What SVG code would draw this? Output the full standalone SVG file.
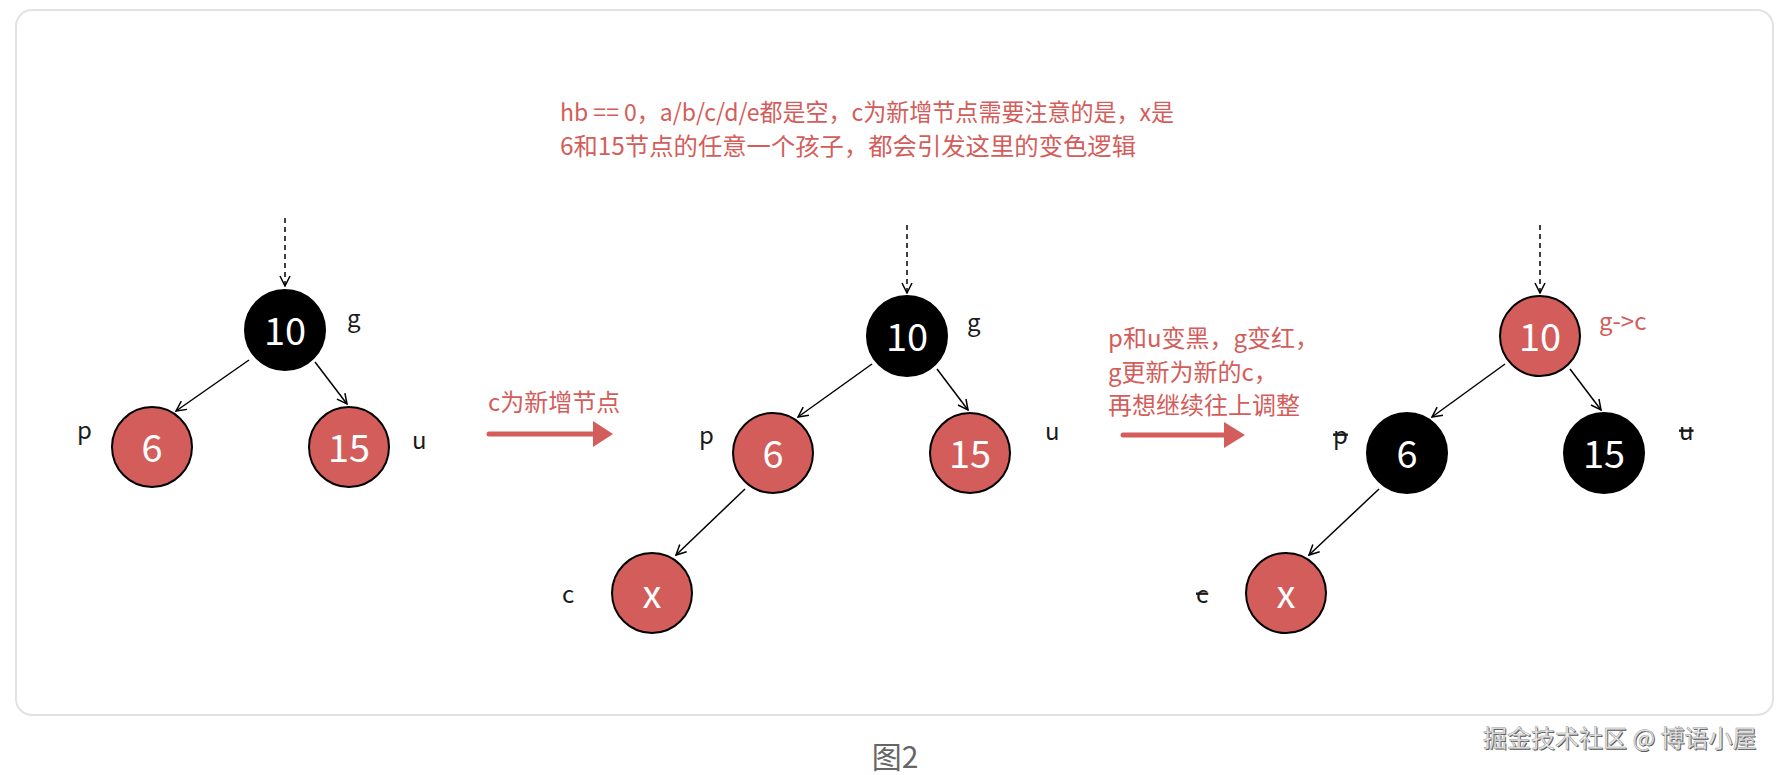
<svg xmlns="http://www.w3.org/2000/svg" width="1790" height="775" viewBox="0 0 1790 775">
<style>
  text { font-family: "Noto Sans CJK SC", "Noto Sans", sans-serif; }
  .red { fill: #d35d5a; stroke: #000; stroke-width: 2; }
  .blk { fill: #000; stroke: #000; stroke-width: 2; }
  .num { fill: #fff; font-size: 38px; text-anchor: middle; }
  .lbl { fill: #1a1a1a; font-size: 24px; }
  .note { fill: #d35d5a; font-size: 24px; }
  .edge { stroke: #000; stroke-width: 1.5; fill: none; marker-end: url(#ah); }
  .dash { stroke: #000; stroke-width: 1.5; fill: none; stroke-dasharray: 5 4; marker-end: url(#ah); }
  .bigarrow { stroke: #d35d5a; stroke-width: 5; stroke-linecap: round; fill: none; }
  .strike { text-decoration: line-through; }
</style>
<defs>
  <marker id="ah" viewBox="0 0 12 12" refX="11" refY="6" markerWidth="12" markerHeight="12" orient="auto" markerUnits="userSpaceOnUse">
    <path d="M1,1 L11,6 L1,11" fill="none" stroke="#000" stroke-width="1.5"/>
  </marker>
</defs>
<rect x="0" y="0" width="1790" height="775" fill="#fff"/>
<rect x="16" y="10" width="1757" height="705" rx="16" ry="16" fill="#fff" stroke="#e2e2e2" stroke-width="2"/>

<g id="top-note">
  <text class="note" x="560" y="121" textLength="614" lengthAdjust="spacingAndGlyphs">hb == 0，a/b/c/d/e都是空，c为新增节点需要注意的是，x是</text>
  <text class="note" x="560" y="155" textLength="576" lengthAdjust="spacingAndGlyphs">6和15节点的任意一个孩子，都会引发这里的变色逻辑</text>
</g>

<g id="connectors">
  <!-- tree 1 -->
  <line class="dash" x1="285" y1="218" x2="285" y2="286"/>
  <line class="edge" x1="249" y1="360" x2="176" y2="411"/>
  <line class="edge" x1="315" y1="362" x2="347" y2="404"/>
  <!-- tree 2 -->
  <line class="dash" x1="907" y1="225" x2="907" y2="293"/>
  <line class="edge" x1="872" y1="364" x2="798" y2="417"/>
  <line class="edge" x1="937" y1="369" x2="968" y2="410"/>
  <line class="edge" x1="745" y1="489" x2="676" y2="555"/>
  <!-- tree 3 -->
  <line class="dash" x1="1540" y1="225" x2="1540" y2="293"/>
  <line class="edge" x1="1505" y1="364" x2="1432" y2="417"/>
  <line class="edge" x1="1570" y1="369" x2="1601" y2="410"/>
  <line class="edge" x1="1379" y1="489" x2="1309" y2="555"/>
  <!-- big red arrows -->
  <line class="bigarrow" x1="489" y1="434" x2="596" y2="434"/>
  <polygon points="593,421 613,434 593,447" fill="#d35d5a"/>
  <line class="bigarrow" x1="1123" y1="435" x2="1226" y2="435"/>
  <polygon points="1224,422 1245,435 1224,448" fill="#d35d5a"/>
</g>

<g id="step1-label">
  <text class="note" x="488" y="411">c为新增节点</text>
</g>
<g id="step2-label">
  <text class="note" x="1108" y="347">p和u变黑，g变红，</text>
  <text class="note" x="1108" y="381">g更新为新的c，</text>
  <text class="note" x="1108" y="414">再想继续往上调整</text>
</g>

<!-- tree 1 -->
<g id="t1-g">
  <circle class="blk" cx="285" cy="330" r="40"/>
  <text class="num" x="285" y="345">10</text>
  <text class="lbl" x="347" y="327">g</text>
</g>
<g id="t1-p">
  <circle class="red" cx="152" cy="447" r="40"/>
  <text class="num" x="152" y="462">6</text>
  <text class="lbl" x="77" y="439">p</text>
</g>
<g id="t1-u">
  <circle class="red" cx="349" cy="447" r="40"/>
  <text class="num" x="349" y="462">15</text>
  <text class="lbl" x="412" y="449">u</text>
</g>

<!-- tree 2 -->
<g id="t2-g">
  <circle class="blk" cx="907" cy="336" r="40"/>
  <text class="num" x="907" y="351">10</text>
  <text class="lbl" x="967" y="331">g</text>
</g>
<g id="t2-p">
  <circle class="red" cx="773" cy="453" r="40"/>
  <text class="num" x="773" y="468">6</text>
  <text class="lbl" x="699" y="444">p</text>
</g>
<g id="t2-u">
  <circle class="red" cx="970" cy="453" r="40"/>
  <text class="num" x="970" y="468">15</text>
  <text class="lbl" x="1045" y="440">u</text>
</g>
<g id="t2-c">
  <circle class="red" cx="652" cy="593" r="40"/>
  <text class="num" x="652" y="608">x</text>
  <text class="lbl" x="562" y="603">c</text>
</g>

<!-- tree 3 -->
<g id="t3-g">
  <circle class="red" cx="1540" cy="336" r="40"/>
  <text class="num" x="1540" y="351">10</text>
  <text class="note" x="1599" y="330">g-&gt;c</text>
</g>
<g id="t3-p">
  <circle class="blk" cx="1407" cy="453" r="40"/>
  <text class="num" x="1407" y="468">6</text>
  <text class="lbl strike" x="1333" y="444">p</text>
</g>
<g id="t3-u">
  <circle class="blk" cx="1604" cy="453" r="40"/>
  <text class="num" x="1604" y="468">15</text>
  <text class="lbl strike" x="1679" y="440">u</text>
</g>
<g id="t3-c">
  <circle class="red" cx="1286" cy="593" r="40"/>
  <text class="num" x="1286" y="608">x</text>
  <text class="lbl strike" x="1196" y="603">c</text>
</g>

<g id="caption">
  <text x="895" y="768" font-size="30" fill="#666" text-anchor="middle">图2</text>
</g>
<g id="watermark">
  <text x="1484" y="748" font-size="24" fill="#555">掘金技术社区 @ 博语小屋</text>
  <text x="1483" y="747" font-size="24" fill="#eeeeee" stroke="#9a9a9a" stroke-width="0.5">掘金技术社区 @ 博语小屋</text>
</g>
</svg>
